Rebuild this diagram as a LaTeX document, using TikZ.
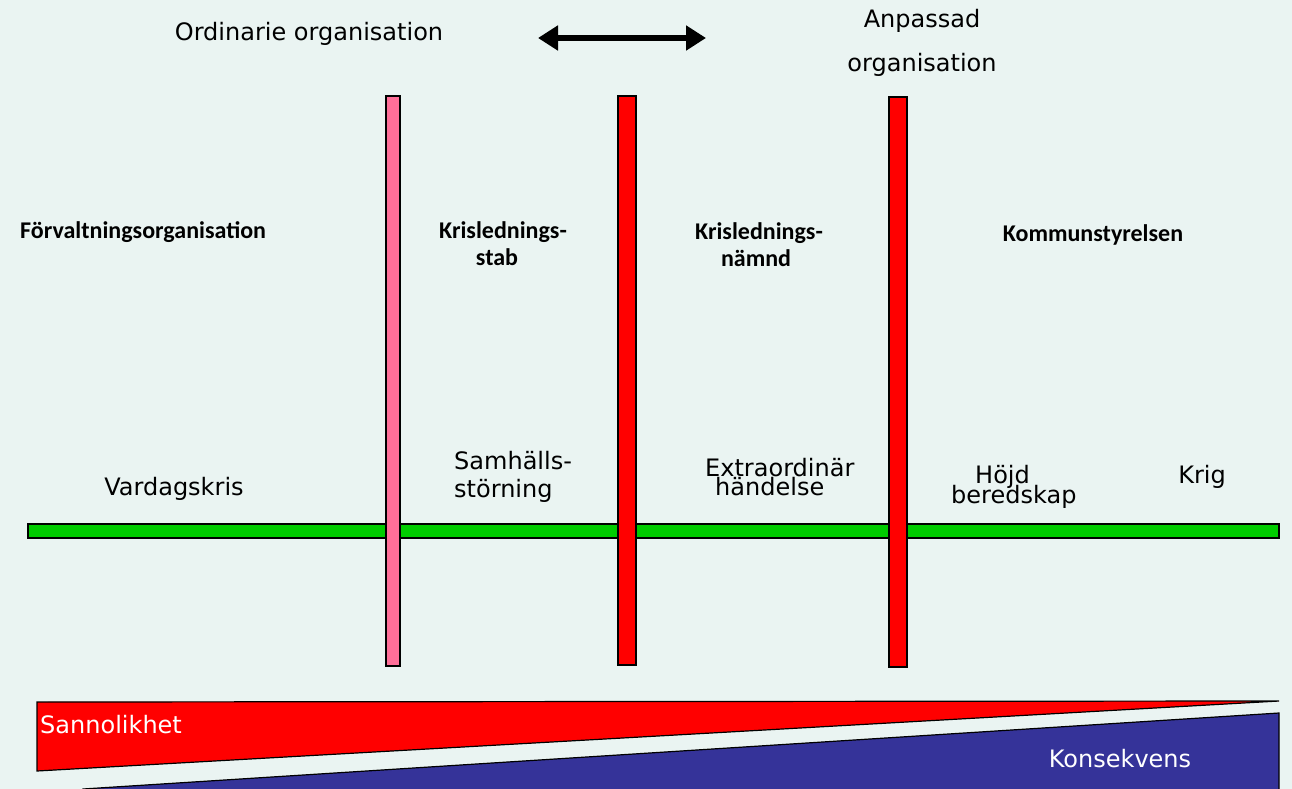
\documentclass[tikz,border=0pt]{standalone}
\usepackage{fontspec}
\setmainfont{DejaVu Sans}
\newfontfamily\calibri{Carlito}
\usetikzlibrary{arrows.meta}
\definecolor{bg}{HTML}{EAF4F2}
\definecolor{pinkbar}{HTML}{FF6F99}
\definecolor{greenbar}{HTML}{00CC00}
\definecolor{konsblue}{HTML}{353399}
\tikzset{
  txt/.style={inner sep=0pt, font=\fontsize{24}{29}\selectfont},
  head/.style={inner sep=0pt, font=\calibri\bfseries\fontsize{24}{29}\selectfont},
  bar/.style={draw=black, line width=1.5pt},
}
\begin{document}
\begin{tikzpicture}[x=1pt, y=-1pt]
  \fill[bg] (0,0) rectangle (1292,789);
  \useasboundingbox (0,0) rectangle (1292,789);

  \fill[red, draw=black, line width=1.2pt] (37,702) -- (1279,701) -- (37,771) -- cycle;
  \fill[konsblue, draw=black, line width=1.2pt] (83,789) -- (1279,713) -- (1279,795) -- (83,795) -- cycle;

  \draw[bar, fill=greenbar] (28,524) rectangle (1279,538);
  \draw[bar, fill=pinkbar] (386,96) rectangle (400,666);
  \draw[bar, fill=red] (618,96) rectangle (636,665);
  \draw[bar, fill=red] (889,97) rectangle (907,667);

  \coordinate (left) at (538,38);
  \coordinate (right) at (706,38);
  \draw[line width=6pt, {Triangle[length=20pt,width=24pt]}-{Triangle[length=20pt,width=24pt]}] (left) -- (right);

  \node (ord) [txt, anchor=base] at (309,41) {Ordinarie organisation};
  \node (anp1) [txt, anchor=base] at (922,28) {Anpassad};
  \node (anp2) [txt, anchor=base] at (922,72) {organisation};

  \node (forv) [head, anchor=base west] at (20,238) {Förvaltningsorganisation};
  \node (stab1) [head, anchor=base] at (503,238) {Krislednings-};
  \node (stab2) [head, anchor=base] at (497,265) {stab};
  \node (namnd1) [head, anchor=base] at (759,239) {Krislednings-};
  \node (namnd2) [head, anchor=base] at (756,266) {nämnd};
  \node (ks) [head, anchor=base] at (1093,241) {Kommunstyrelsen};

  \node (vard) [txt, anchor=base] at (174,495) {Vardagskris};
  \node (samh1) [txt, anchor=base west] at (454,469) {Samhälls-};
  \node (samh2) [txt, anchor=base west] at (454,497) {störning};
  \node (extra1) [txt, anchor=base west] at (705,476) {Extraordinär};
  \node (extra2) [txt, anchor=base west] at (715,495) {händelse};
  \node (hojd1) [txt, anchor=base west] at (975,483) {Höjd};
  \node (hojd2) [txt, anchor=base west] at (951,503) {beredskap};
  \node (krig) [txt, anchor=base] at (1202,483) {Krig};

  \node (sann) [txt, text=white, anchor=base west] at (40,733) {Sannolikhet};
  \node (kons) [txt, text=white, anchor=base] at (1120,767) {Konsekvens};
\end{tikzpicture}
\end{document}
